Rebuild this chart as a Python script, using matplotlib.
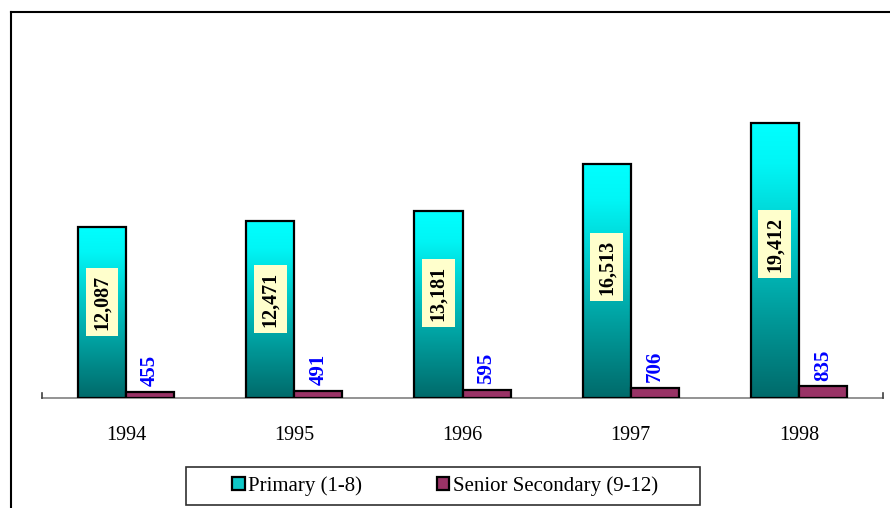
import numpy as np
import matplotlib.pyplot as plt
from matplotlib.colors import LinearSegmentedColormap
from matplotlib.patches import Rectangle, Patch
from matplotlib.lines import Line2D

plt.rcParams['font.family'] = ['Liberation Serif', 'DejaVu Serif']

# Enrolment by level, 1994-1998
years = ['1994', '1995', '1996', '1997', '1998']
primary = [12087, 12471, 13181, 16513, 19412]
senior = [455, 491, 595, 706, 835]
series_names = ['Primary (1-8)', 'Senior Secondary (9-12)']

W, H = 890, 508
fig = plt.figure(figsize=(W / 100, H / 100), dpi=100)

ax_left, ax_right, ax_bottom, ax_top = 42, 883, 398, 40
ax = fig.add_axes([ax_left / W, 1 - ax_bottom / H,
                   (ax_right - ax_left) / W, (ax_bottom - ax_top) / H])

x = np.arange(len(years))
bw = 0.286
grad = LinearSegmentedColormap.from_list(
    'teal', [(0.0, '#006A6A'), (0.55, '#00C4C4'), (0.85, '#00F6F6'), (1.0, '#00FFFF')])
gradient = np.linspace(0, 1, 256).reshape(-1, 1)

bars_p = ax.bar(x - bw / 2, primary, width=bw, facecolor='none',
                edgecolor='black', linewidth=1.6, zorder=3)
for b in bars_p:
    x0, w, h = b.get_x(), b.get_width(), b.get_height()
    im = ax.imshow(gradient, cmap=grad, origin='lower', aspect='auto',
                   extent=(x0, x0 + w, 0, h), zorder=2)
    im.set_clip_path(b)

ax.bar(x + bw / 2, senior, width=bw, color='#993366',
       edgecolor='black', linewidth=1.6, zorder=3)

ax.set_xlim(-0.5, 4.5)
ax.set_ylim(0, 25270)

# value labels
for xi, v in zip(x, primary):
    ax.text(xi - bw / 2, v * 0.56, f'{v:,}', rotation=90, ha='center', va='center',
            fontsize=14.5, fontweight='bold', color='black', zorder=5,
            bbox=dict(boxstyle='square,pad=0.32', facecolor='#FFFFCC', edgecolor='none'))
for xi, v in zip(x, senior):
    ax.annotate(f'{v:,}', (xi + bw / 2, v), xytext=(0, 4), textcoords='offset points',
                rotation=90, ha='center', va='bottom', fontsize=15,
                fontweight='bold', color='#0000FF', zorder=5)

for s in ['top', 'right', 'left']:
    ax.spines[s].set_visible(False)
ax.spines['bottom'].set_color('#808080')
ax.spines['bottom'].set_linewidth(1.2)
ax.set_yticks([])
ax.set_xticks(x)
ax.set_xticklabels(years, fontsize=14.5)
ax.tick_params(axis='x', length=0, pad=20)
ax.patch.set_visible(False)

# small end ticks on the axis line
for px in (ax_left, ax_right):
    fig.add_artist(Line2D([px / W, px / W], [1 - ax_bottom / H, 1 - (ax_bottom - 5) / H],
                          color='#404040', linewidth=1.2))

# legend with its own frame
handles = [Patch(facecolor='#10C8C8', edgecolor='black', linewidth=1.6),
           Patch(facecolor='#993366', edgecolor='black', linewidth=1.6)]
fig.add_artist(Rectangle((186 / W, 1 - 505 / H), (700 - 186) / W, (505 - 467) / H,
                         transform=fig.transFigure, facecolor='white',
                         edgecolor='#303030', linewidth=1.2))
fig.legend(handles, series_names, loc='center', bbox_to_anchor=(445 / W, 1 - 486 / H),
           ncol=2, frameon=False, fontsize=15, handlelength=0.6, handleheight=0.6,
           handletextpad=0.15, columnspacing=3.6)

# outer chart frame (partially cut off at right and bottom)
fig.add_artist(Line2D([10.5 / W, 1], [1 - 11.5 / H, 1 - 11.5 / H], color='black', linewidth=1.5))
fig.add_artist(Line2D([10.5 / W, 10.5 / W], [0, 1 - 11.5 / H], color='black', linewidth=1.5))

fig.savefig('out.png', dpi=100)
